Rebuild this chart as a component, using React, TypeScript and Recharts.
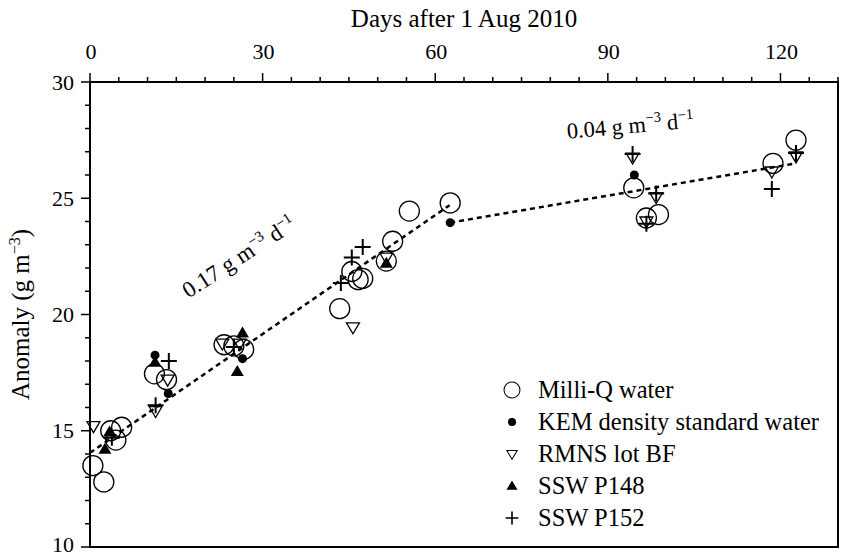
import React from 'react';
import {
    ScatterChart, Scatter, XAxis, YAxis, ReferenceLine, ReferenceArea,
    ReferenceDot, Legend, Label,
} from 'recharts';

const FONT = '"Times New Roman", "Liberation Serif", Tinos, "DejaVu Serif", serif';

// [day, anomaly]
const milliQ = [
    [0.5, 13.5], [2.4, 12.8], [3.6, 15.0], [4.5, 14.6], [5.5, 15.15],
    [11.2, 17.45], [13.3, 17.2], [23.3, 18.7], [25.0, 18.65], [26.7, 18.5],
    [43.4, 20.25], [45.5, 21.85], [46.6, 21.5], [47.4, 21.55], [51.5, 22.3],
    [52.6, 23.15], [55.5, 24.45], [62.6, 24.8], [94.5, 25.45], [96.7, 24.15],
    [98.8, 24.3], [118.7, 26.5], [122.7, 27.5],
];
const kem = [[11.3, 18.25], [13.6, 16.6], [26.5, 18.1], [62.6, 23.95], [94.6, 26.0]];
const rmns = [
    [0.6, 15.2], [11.4, 15.85], [13.5, 17.2], [23.0, 18.75], [26.0, 18.75],
    [45.7, 19.45], [51.5, 22.45], [94.3, 26.75], [96.7, 24.0], [98.4, 25.05],
    [118.5, 26.15], [122.7, 26.8],
];
const p148 = [[2.6, 14.2], [3.4, 14.95], [11.3, 17.95], [25.6, 17.55], [26.5, 19.2], [51.5, 22.2]];
const p152 = [
    [3.8, 14.7], [11.4, 16.1], [13.7, 18.0], [25.0, 18.6], [43.6, 21.35],
    [45.5, 22.45], [47.4, 22.9], [94.3, 26.9], [96.7, 23.9], [98.4, 25.2],
    [118.5, 25.4], [122.7, 26.95],
];

// fitted lines
const fitEarly = [[0, 14.05], [62.5, 24.7]];
const fitLate = [[62.6, 23.95], [122.7, 26.5]];

const xTicks = Array.from({ length: 27 }, (_, i) => i * 5);
const yTicks = Array.from({ length: 21 }, (_, i) => 10 + i);

const toPts = (arr: number[][]) => arr.map(([d, v]) => ({ d, v }));
const seg = (arr: number[][]) => arr.map(([x, y]) => ({ x, y }));

const OpenCircle = ({ cx, cy }: any) => <circle cx={cx} cy={cy} r={10} fill="none" stroke="#000" strokeWidth={1.3} />;
const Dot = ({ cx, cy }: any) => <circle cx={cx} cy={cy} r={4.5} fill="#000" />;
const DownTri = ({ cx, cy }: any) => (
    <path d={`M${cx - 6.5},${cy - 4.5}L${cx + 6.5},${cy - 4.5}L${cx},${cy + 6.5}Z`} fill="none" stroke="#000" strokeWidth={1.3} />
);
const UpTri = ({ cx, cy }: any) => (
    <path d={`M${cx - 6.5},${cy + 4.5}L${cx + 6.5},${cy + 4.5}L${cx},${cy - 6.5}Z`} fill="#000" />
);
const Plus = ({ cx, cy }: any) => (
    <path d={`M${cx - 8},${cy}H${cx + 8}M${cx},${cy - 8}V${cy + 8}`} stroke="#000" strokeWidth={2} />
);

const TopTick = ({ x, y, payload }: any) => {
    const major = payload.value % 30 === 0;
    return (
        <g>
            <line x1={x} x2={x} y1={y} y2={y - (major ? 9 : 5)} stroke="#000" strokeWidth={1.5} />
            {major && (
                <text x={x + 1} y={y - 23} textAnchor="middle" fontSize={22} fontFamily={FONT} fill="#000">{payload.value}</text>
            )}
        </g>
    );
};

const BottomTick = ({ x, y, payload }: any) => {
    const major = payload.value % 30 === 0;
    return <line x1={x} x2={x} y1={y} y2={y + (major ? 9 : 5)} stroke="#000" strokeWidth={1.5} />;
};

const LeftTick = ({ x, y, payload }: any) => {
    const major = payload.value % 5 === 0;
    // lowest label sits on the page edge, lift it a touch
    const ty = payload.value === 10 ? y - 3 : y;
    return (
        <g>
            <line x1={x} x2={x - (major ? 9 : 5)} y1={y} y2={y} stroke="#000" strokeWidth={1.5} />
            {major && (
                <text x={x - 16} y={ty} dy="0.35em" textAnchor="end" fontSize={22} fontFamily={FONT} fill="#000">{payload.value}</text>
            )}
        </g>
    );
};

const SlopeText = ({ cx, cy, angle, rate, size }: any) => (
    <text x={cx} y={cy} transform={`rotate(${angle} ${cx} ${cy})`} textAnchor="middle" fontSize={size} fontFamily={FONT} fill="#000">
        {rate} g m<tspan dy={-9} fontSize={size * 0.65}>−3</tspan><tspan dy={9}> d</tspan><tspan dy={-9} fontSize={size * 0.65}>−1</tspan>
    </text>
);

const legendItems = [
    { name: 'Milli-Q water', Icon: OpenCircle, scale: 0.8 },
    { name: 'KEM density standard water', Icon: Dot, scale: 0.9 },
    { name: 'RMNS lot BF', Icon: DownTri, scale: 0.8 },
    { name: 'SSW P148', Icon: UpTri, scale: 0.85 },
    { name: 'SSW P152', Icon: Plus, scale: 0.8 },
];

const LegendBox = () => (
    <div style={{ fontFamily: FONT, fontSize: 24.5, color: '#000', lineHeight: 1 }}>
        {legendItems.map(({ name, Icon, scale }) => (
            <div key={name} style={{ display: 'flex', alignItems: 'center', height: 32 }}>
                <svg width={24} height={24} style={{ marginRight: 14 }}>
                    <g transform={`translate(12 12) scale(${scale})`}>
                        <Icon cx={0} cy={0} />
                    </g>
                </svg>
                <span>{name}</span>
            </div>
        ))}
    </div>
);

export default function App() {
    return (
        <div style={{ position: 'absolute', left: 0, top: 0, background: '#fff', fontFamily: FONT }}>
            <ScatterChart width={841} height={558} margin={{ top: 0, right: 3, bottom: 0, left: 0 }}>
                <XAxis
                    xAxisId="top" orientation="top" type="number" dataKey="d"
                    domain={[0, 130]} ticks={xTicks} interval={0} height={82}
                    tickSize={0} tickMargin={0} tickLine={false} tick={<TopTick />}
                    axisLine={{ stroke: '#000', strokeWidth: 2 }}
                >
                    <Label
                        content={({ viewBox }: any) => (
                            <text x={viewBox.x + viewBox.width / 2} y={27} textAnchor="middle" fontSize={25} fontFamily={FONT} fill="#000">
                                Days after 1 Aug 2010
                            </text>
                        )}
                    />
                </XAxis>
                <XAxis
                    xAxisId="bottom" orientation="bottom" type="number"
                    domain={[0, 130]} ticks={xTicks} interval={0} height={11}
                    tickSize={0} tickMargin={0} tickLine={false} tick={<BottomTick />}
                    axisLine={{ stroke: '#000', strokeWidth: 2 }}
                />
                <YAxis
                    type="number" dataKey="v" domain={[10, 30]} ticks={yTicks} interval={0} width={90}
                    tickSize={0} tickMargin={0} tickLine={false} tick={<LeftTick />}
                    axisLine={{ stroke: '#000', strokeWidth: 2 }}
                >
                    <Label
                        content={({ viewBox }: any) => {
                            const cx = 29;
                            const cy = viewBox.y + viewBox.height / 2;
                            return (
                                <text x={cx} y={cy} transform={`rotate(-90 ${cx} ${cy})`} textAnchor="middle" fontSize={25} fontFamily={FONT} fill="#000">
                                    Anomaly (g m<tspan dy={-9} fontSize={16}>−3</tspan><tspan dy={9}>)</tspan>
                                </text>
                            );
                        }}
                    />
                </YAxis>
                <ReferenceArea xAxisId="top" x1={0} x2={130} y1={10} y2={30} fill="none" fillOpacity={0} stroke="#000" strokeWidth={2} />
                <ReferenceLine xAxisId="top" segment={seg(fitEarly)} stroke="#000" strokeWidth={2.5} strokeDasharray="5 4" />
                <ReferenceLine xAxisId="top" segment={seg(fitLate)} stroke="#000" strokeWidth={2.5} strokeDasharray="5 4" />
                <Scatter xAxisId="top" name="Milli-Q water" data={toPts(milliQ)} shape={<OpenCircle />} isAnimationActive={false} />
                <Scatter xAxisId="top" name="KEM density standard water" data={toPts(kem)} shape={<Dot />} isAnimationActive={false} />
                <Scatter xAxisId="top" name="RMNS lot BF" data={toPts(rmns)} shape={<DownTri />} isAnimationActive={false} />
                <Scatter xAxisId="top" name="SSW P148" data={toPts(p148)} shape={<UpTri />} isAnimationActive={false} />
                <Scatter xAxisId="top" name="SSW P152" data={toPts(p152)} shape={<Plus />} isAnimationActive={false} />
                <ReferenceDot xAxisId="top" x={26.6} y={22.2} r={0} shape={(p: any) => <SlopeText cx={p.cx} cy={p.cy} angle={-33} rate="0.17" size={23} />} />
                <ReferenceDot xAxisId="top" x={94} y={27.8} r={0} shape={(p: any) => <SlopeText cx={p.cx} cy={p.cy} angle={-5} rate="0.04" size={22.5} />} />
                <Legend
                    layout="vertical" align="center" verticalAlign="middle"
                    wrapperStyle={{ left: 500, top: 374, width: 340 }}
                    content={() => <LegendBox />}
                />
            </ScatterChart>
        </div>
    );
}
